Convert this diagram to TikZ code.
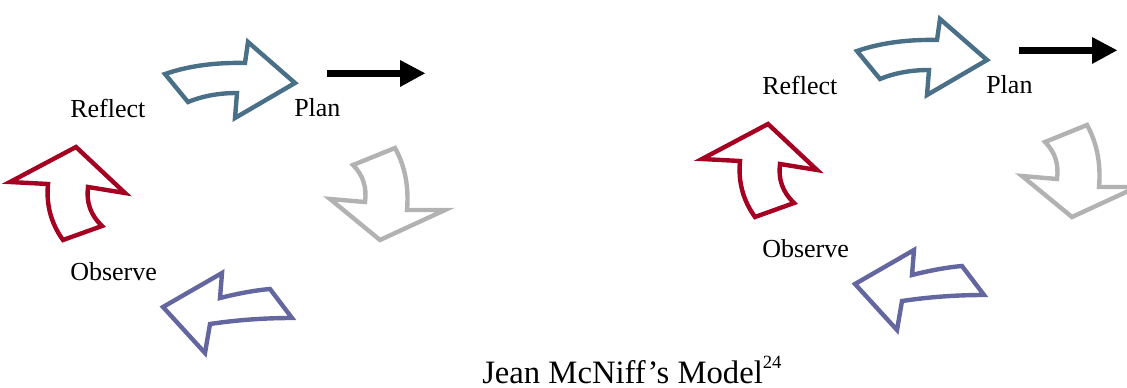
\documentclass[tikz,border=0pt]{standalone}
\usepackage{fontspec}
\setmainfont{Liberation Serif}
\definecolor{cblue}{HTML}{4A7087}
\definecolor{cgray}{HTML}{B2B2B2}
\definecolor{cpurple}{HTML}{6466A0}
\definecolor{cred}{HTML}{A50021}
\tikzset{
  bigarrow/.style={line width=3.3pt, line join=miter, fill=white},
  lbl/.style={anchor=base west, inner sep=0pt, font=\fontsize{19.5}{23}\selectfont},
  cycle/.pic={
    \draw[bigarrow, draw=cblue] (165,74) -- (188,102) .. controls (202.7,96) and (219,93) .. (237,93)
      -- (235,118) -- (295,83) -- (248,42) -- (245,63) .. controls (215,62.3) and (188.3,66) .. (165,74) -- cycle;
    \draw[bigarrow, draw=cgray] (353,165) -- (395,148) .. controls (405,166) and (409,186.7) .. (407,210)
      -- (445,210) -- (380,240) -- (330,199) -- (365,202) .. controls (367,187.3) and (363,175) .. (353,165) -- cycle;
    \draw[bigarrow, draw=cpurple] (270,289) -- (292,318) .. controls (264,318) and (236.7,320) .. (210,324)
      -- (205,353) -- (163,307) -- (222,273) -- (220,298) .. controls (238.7,293.3) and (255.3,290.3) .. (270,289) -- cycle;
    \draw[bigarrow, draw=cred] (63,240) -- (102,226) .. controls (90.7,215.3) and (86,202.3) .. (88,187)
      -- (125,193) -- (76,147) -- (10,182) -- (48,184) .. controls (46,204.7) and (51,223.3) .. (63,240) -- cycle;
    \coordinate (-s) at (327,73.3);
    \coordinate (-h) at (400,73.3);
    \draw[line width=5.2pt] (-s) -- (-h);
    \fill (400,60) -- (425,73.3) -- (400,87) -- cycle;
    \node[lbl] (-reflect) at (70,117.3) {Reflect};
    \node[lbl] (-plan) at (294,116.7) {Plan};
    \node[lbl] (-observe) at (70,280.7) {Observe};
  }
}
\begin{document}
\begin{tikzpicture}[x=0.75pt,y=-0.75pt]
\useasboundingbox (0,0) rectangle (1127,388);
\clip (0,0) rectangle (1127,388);
\pic (L) at (0,0) {cycle};
\pic (R) at (692,-23) {cycle};
\node[anchor=base west, inner sep=0pt, font=\fontsize{24.5}{28}\selectfont] (caption) at (482,383)
  {Jean McNiff’s Model\raisebox{11pt}{\fontsize{14}{15}\selectfont 24}};
\end{tikzpicture}
\end{document}
